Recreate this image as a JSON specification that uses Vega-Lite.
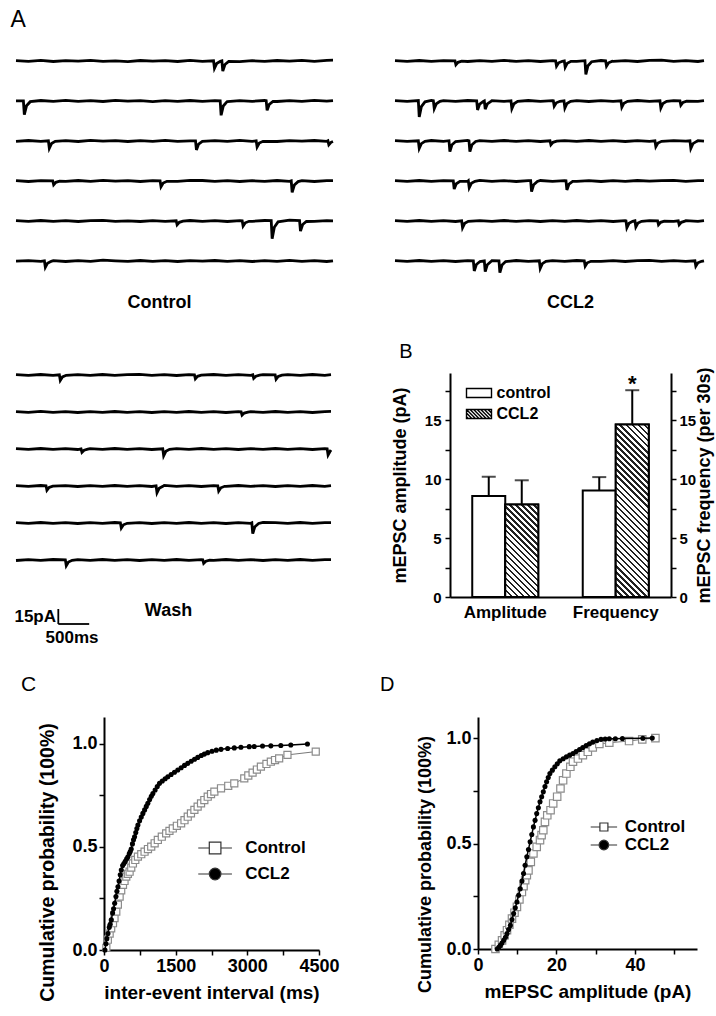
{
"$schema":"https://vega.github.io/schema/vega-lite/v6.json",
"background":"white",
"padding":{"left":10,"top":9,"right":5,"bottom":5},
"title":{"text":"A","anchor":"start","fontSize":23,"fontWeight":"normal","offset":14},
"spacing":28,
"align":"none",
"resolve":{"scale":{"shape":"independent","fill":"independent"},"legend":{"shape":"independent","fill":"independent"}},
"config":{
 "view":{"stroke":null},
 "font":"Liberation Sans",
 "axis":{"domainColor":"black","domainWidth":2,"tickColor":"black","tickWidth":1.5,"tickSize":5,"labelColor":"black","labelFontWeight":"bold","titleColor":"black","titleFontWeight":"bold","grid":false,"labelPadding":2,"labelFont":"Liberation Sans","titleFont":"Liberation Sans","labelFlush":false,"labelOverlap":false},
 "legend":{"labelFont":"Liberation Sans","labelFontWeight":"bold","labelColor":"black","padding":0},
 "title":{"font":"Liberation Sans","color":"black"}
},
"datasets":{
"ctl":[
{"k":1,"t":0,"i":0.4},{"k":1,"t":200,"i":-0.3},{"k":1,"t":400,"i":0.6},{"k":1,"t":600,"i":-0.5},{"k":1,"t":800,"i":0.3},{"k":1,"t":1000,"i":-0.2},{"k":1,"t":1200,"i":0.7},{"k":1,"t":1400,"i":-0.4},{"k":1,"t":1600,"i":0.2},{"k":1,"t":1800,"i":-0.6},{"k":1,"t":2000,"i":0.5},{"k":1,"t":2200,"i":-0.1},{"k":1,"t":2400,"i":0.4},{"k":1,"t":2600,"i":-0.5},{"k":1,"t":2800,"i":0.6},{"k":1,"t":3000,"i":-0.3},{"k":1,"t":3178,"i":0.2},{"k":1,"t":3193,"i":-7.3},{"k":1,"t":3228,"i":-2.6},{"k":1,"t":3288,"i":-0.4},{"k":1,"t":3312,"i":0.1},{"k":1,"t":3327,"i":-10.1},{"k":1,"t":3362,"i":-3.5},{"k":1,"t":3422,"i":-0.5},{"k":1,"t":3600,"i":-0.6},{"k":1,"t":3800,"i":0.3},{"k":1,"t":4000,"i":-0.4},{"k":1,"t":4200,"i":0.5},{"k":1,"t":4400,"i":-0.2},{"k":1,"t":4600,"i":0.6},{"k":1,"t":4800,"i":-0.3},{"k":1,"t":5000,"i":0.7},{"k":1,"t":5100,"i":0.8},
{"k":2,"t":0,"i":0.2},{"k":2,"t":119,"i":0.2},{"k":2,"t":134,"i":-13.7},{"k":2,"t":169,"i":-4.8},{"k":2,"t":229,"i":-0.7},{"k":2,"t":400,"i":0.5},{"k":2,"t":600,"i":-0.3},{"k":2,"t":800,"i":0.6},{"k":2,"t":1000,"i":-0.4},{"k":2,"t":1200,"i":0.3},{"k":2,"t":1400,"i":-0.5},{"k":2,"t":1600,"i":0.6},{"k":2,"t":1800,"i":-0.2},{"k":2,"t":2000,"i":0.4},{"k":2,"t":2200,"i":-0.6},{"k":2,"t":2400,"i":0.3},{"k":2,"t":2600,"i":-0.3},{"k":2,"t":2800,"i":0.5},{"k":2,"t":3000,"i":-0.4},{"k":2,"t":3200,"i":0.3},{"k":2,"t":3285,"i":0.2},{"k":2,"t":3300,"i":-14.3},{"k":2,"t":3335,"i":-5.0},{"k":2,"t":3395,"i":-0.7},{"k":2,"t":3400,"i":-0.6},{"k":2,"t":3600,"i":0.4},{"k":2,"t":3800,"i":-0.3},{"k":2,"t":4000,"i":0.5},{"k":2,"t":4025,"i":0.3},{"k":2,"t":4040,"i":-9.4},{"k":2,"t":4075,"i":-3.3},{"k":2,"t":4135,"i":-0.5},{"k":2,"t":4200,"i":-0.5},{"k":2,"t":4400,"i":0.3},{"k":2,"t":4600,"i":-0.4},{"k":2,"t":4800,"i":0.6},{"k":2,"t":5000,"i":-0.2},{"k":2,"t":5100,"i":0.3},
{"k":3,"t":0,"i":-0.3},{"k":3,"t":200,"i":0.5},{"k":3,"t":400,"i":-0.4},{"k":3,"t":521,"i":0.2},{"k":3,"t":536,"i":-7.3},{"k":3,"t":571,"i":-2.6},{"k":3,"t":631,"i":-0.4},{"k":3,"t":800,"i":0.4},{"k":3,"t":1000,"i":-0.5},{"k":3,"t":1200,"i":0.6},{"k":3,"t":1400,"i":-0.2},{"k":3,"t":1600,"i":0.4},{"k":3,"t":1800,"i":-0.5},{"k":3,"t":2000,"i":0.3},{"k":3,"t":2200,"i":-0.4},{"k":3,"t":2400,"i":0.6},{"k":3,"t":2600,"i":-0.3},{"k":3,"t":2800,"i":0.2},{"k":3,"t":2888,"i":0.2},{"k":3,"t":2903,"i":-8.9},{"k":3,"t":2938,"i":-3.1},{"k":3,"t":2998,"i":-0.4},{"k":3,"t":3200,"i":0.4},{"k":3,"t":3400,"i":-0.3},{"k":3,"t":3600,"i":0.6},{"k":3,"t":3800,"i":-0.4},{"k":3,"t":3864,"i":0.1},{"k":3,"t":3879,"i":-6.0},{"k":3,"t":3914,"i":-2.1},{"k":3,"t":3974,"i":-0.3},{"k":3,"t":4200,"i":-0.5},{"k":3,"t":4400,"i":0.4},{"k":3,"t":4600,"i":-0.2},{"k":3,"t":4800,"i":0.5},{"k":3,"t":5000,"i":-0.3},{"k":3,"t":5018,"i":0.2},{"k":3,"t":5033,"i":-3.8},{"k":3,"t":5068,"i":-1.3},{"k":3,"t":5100,"i":-0.5},
{"k":4,"t":0,"i":0.4},{"k":4,"t":200,"i":-0.5},{"k":4,"t":400,"i":0.3},{"k":4,"t":591,"i":0.2},{"k":4,"t":606,"i":-3.8},{"k":4,"t":641,"i":-1.3},{"k":4,"t":701,"i":-0.2},{"k":4,"t":800,"i":-0.3},{"k":4,"t":1000,"i":0.5},{"k":4,"t":1200,"i":-0.4},{"k":4,"t":1400,"i":0.6},{"k":4,"t":1600,"i":-0.2},{"k":4,"t":1800,"i":0.4},{"k":4,"t":2000,"i":-0.5},{"k":4,"t":2200,"i":0.3},{"k":4,"t":2318,"i":0.2},{"k":4,"t":2333,"i":-5.7},{"k":4,"t":2368,"i":-2.0},{"k":4,"t":2428,"i":-0.3},{"k":4,"t":2600,"i":-0.4},{"k":4,"t":2800,"i":0.7},{"k":4,"t":3000,"i":0.5},{"k":4,"t":3200,"i":-0.3},{"k":4,"t":3400,"i":0.4},{"k":4,"t":3600,"i":-0.5},{"k":4,"t":3800,"i":0.3},{"k":4,"t":4000,"i":-0.4},{"k":4,"t":4200,"i":0.5},{"k":4,"t":4400,"i":-0.3},{"k":4,"t":4428,"i":0.2},{"k":4,"t":4443,"i":-11.4},{"k":4,"t":4478,"i":-4.0},{"k":4,"t":4538,"i":-0.6},{"k":4,"t":4600,"i":0.4},{"k":4,"t":4800,"i":-0.5},{"k":4,"t":5000,"i":0.3},{"k":4,"t":5100,"i":0.4},
{"k":5,"t":0,"i":0.3},{"k":5,"t":200,"i":-0.4},{"k":5,"t":400,"i":0.5},{"k":5,"t":600,"i":-0.3},{"k":5,"t":800,"i":0.4},{"k":5,"t":1000,"i":-0.5},{"k":5,"t":1200,"i":0.3},{"k":5,"t":1400,"i":0.6},{"k":5,"t":1600,"i":-0.4},{"k":5,"t":1800,"i":0.2},{"k":5,"t":2000,"i":-0.5},{"k":5,"t":2200,"i":0.4},{"k":5,"t":2400,"i":-0.3},{"k":5,"t":2577,"i":0.2},{"k":5,"t":2592,"i":-3.8},{"k":5,"t":2627,"i":-1.3},{"k":5,"t":2687,"i":-0.2},{"k":5,"t":2800,"i":0.5},{"k":5,"t":3000,"i":-0.4},{"k":5,"t":3200,"i":0.3},{"k":5,"t":3400,"i":-0.5},{"k":5,"t":3600,"i":0.4},{"k":5,"t":3639,"i":0.2},{"k":5,"t":3654,"i":-5.1},{"k":5,"t":3689,"i":-1.8},{"k":5,"t":3749,"i":-0.3},{"k":5,"t":3800,"i":-0.3},{"k":5,"t":4000,"i":0.5},{"k":5,"t":4106,"i":0.3},{"k":5,"t":4121,"i":-17.7},{"k":5,"t":4156,"i":-6.2},{"k":5,"t":4216,"i":-0.9},{"k":5,"t":4400,"i":0.8},{"k":5,"t":4562,"i":0.3},{"k":5,"t":4577,"i":-10.1},{"k":5,"t":4612,"i":-3.5},{"k":5,"t":4672,"i":-0.5},{"k":5,"t":4800,"i":-0.4},{"k":5,"t":5000,"i":0.3},{"k":5,"t":5100,"i":0.2},
{"k":6,"t":0,"i":-0.2},{"k":6,"t":200,"i":0.4},{"k":6,"t":400,"i":-0.4},{"k":6,"t":457,"i":0.2},{"k":6,"t":472,"i":-6.3},{"k":6,"t":507,"i":-2.2},{"k":6,"t":567,"i":-0.3},{"k":6,"t":600,"i":0.3},{"k":6,"t":800,"i":-0.5},{"k":6,"t":1000,"i":0.4},{"k":6,"t":1200,"i":-0.3},{"k":6,"t":1400,"i":0.8},{"k":6,"t":1600,"i":0.2},{"k":6,"t":1800,"i":-0.4},{"k":6,"t":2000,"i":0.5},{"k":6,"t":2200,"i":-0.3},{"k":6,"t":2400,"i":0.4},{"k":6,"t":2600,"i":-0.5},{"k":6,"t":2800,"i":0.3},{"k":6,"t":3000,"i":-0.2},{"k":6,"t":3200,"i":0.5},{"k":6,"t":3400,"i":-0.4},{"k":6,"t":3600,"i":0.3},{"k":6,"t":3800,"i":-0.5},{"k":6,"t":4000,"i":0.4},{"k":6,"t":4200,"i":-0.3},{"k":6,"t":4400,"i":0.6},{"k":6,"t":4600,"i":-0.4},{"k":6,"t":4800,"i":0.3},{"k":6,"t":5000,"i":-0.5},{"k":6,"t":5100,"i":0.2}
],
"ccl":[
{"k":1,"t":0,"i":0.3},{"k":1,"t":200,"i":-0.4},{"k":1,"t":400,"i":0.5},{"k":1,"t":600,"i":-0.3},{"k":1,"t":800,"i":0.4},{"k":1,"t":990,"i":0.2},{"k":1,"t":1005,"i":-3.8},{"k":1,"t":1040,"i":-1.3},{"k":1,"t":1100,"i":-0.2},{"k":1,"t":1200,"i":-0.5},{"k":1,"t":1400,"i":0.4},{"k":1,"t":1600,"i":-0.3},{"k":1,"t":1800,"i":0.6},{"k":1,"t":2000,"i":-0.4},{"k":1,"t":2200,"i":0.3},{"k":1,"t":2400,"i":-0.5},{"k":1,"t":2600,"i":0.4},{"k":1,"t":2651,"i":0.2},{"k":1,"t":2666,"i":-5.1},{"k":1,"t":2701,"i":-1.8},{"k":1,"t":2761,"i":-0.3},{"k":1,"t":2794,"i":0.1},{"k":1,"t":2809,"i":-6.3},{"k":1,"t":2844,"i":-2.2},{"k":1,"t":2904,"i":-0.3},{"k":1,"t":3000,"i":-0.3},{"k":1,"t":3135,"i":0.3},{"k":1,"t":3150,"i":-13.3},{"k":1,"t":3185,"i":-4.7},{"k":1,"t":3245,"i":-0.7},{"k":1,"t":3400,"i":0.5},{"k":1,"t":3476,"i":0.2},{"k":1,"t":3491,"i":-5.1},{"k":1,"t":3526,"i":-1.8},{"k":1,"t":3586,"i":-0.3},{"k":1,"t":3600,"i":-0.4},{"k":1,"t":3800,"i":0.3},{"k":1,"t":4000,"i":-0.5},{"k":1,"t":4200,"i":0.6},{"k":1,"t":4400,"i":0.9},{"k":1,"t":4600,"i":-0.3},{"k":1,"t":4800,"i":0.4},{"k":1,"t":5000,"i":-0.5},{"k":1,"t":5100,"i":0.3},
{"k":2,"t":0,"i":0.3},{"k":2,"t":200,"i":-0.4},{"k":2,"t":385,"i":0.4},{"k":2,"t":400,"i":-16.0},{"k":2,"t":435,"i":-5.6},{"k":2,"t":495,"i":-0.8},{"k":2,"t":600,"i":0.5},{"k":2,"t":633,"i":0.3},{"k":2,"t":648,"i":-7.6},{"k":2,"t":683,"i":-2.7},{"k":2,"t":743,"i":-0.4},{"k":2,"t":800,"i":0.4},{"k":2,"t":1000,"i":-0.3},{"k":2,"t":1200,"i":0.5},{"k":2,"t":1348,"i":0.2},{"k":2,"t":1363,"i":-8.9},{"k":2,"t":1398,"i":-3.1},{"k":2,"t":1458,"i":-0.4},{"k":2,"t":1474,"i":0.1},{"k":2,"t":1489,"i":-8.2},{"k":2,"t":1524,"i":-2.9},{"k":2,"t":1584,"i":-0.4},{"k":2,"t":1600,"i":0.4},{"k":2,"t":1800,"i":-0.4},{"k":2,"t":1914,"i":0.2},{"k":2,"t":1929,"i":-7.6},{"k":2,"t":1964,"i":-2.7},{"k":2,"t":2024,"i":-0.4},{"k":2,"t":2200,"i":0.5},{"k":2,"t":2400,"i":-0.3},{"k":2,"t":2600,"i":0.3},{"k":2,"t":2613,"i":0.2},{"k":2,"t":2628,"i":-5.1},{"k":2,"t":2663,"i":-1.8},{"k":2,"t":2723,"i":-0.3},{"k":2,"t":2789,"i":0.2},{"k":2,"t":2804,"i":-7.0},{"k":2,"t":2839,"i":-2.5},{"k":2,"t":2899,"i":-0.4},{"k":2,"t":3000,"i":0.4},{"k":2,"t":3200,"i":-0.5},{"k":2,"t":3400,"i":0.3},{"k":2,"t":3600,"i":-0.4},{"k":2,"t":3729,"i":0.2},{"k":2,"t":3744,"i":-6.3},{"k":2,"t":3779,"i":-2.2},{"k":2,"t":3839,"i":-0.3},{"k":2,"t":4000,"i":0.5},{"k":2,"t":4200,"i":-0.3},{"k":2,"t":4373,"i":0.2},{"k":2,"t":4388,"i":-7.0},{"k":2,"t":4423,"i":-2.5},{"k":2,"t":4483,"i":-0.4},{"k":2,"t":4600,"i":0.4},{"k":2,"t":4703,"i":0.2},{"k":2,"t":4718,"i":-4.3},{"k":2,"t":4753,"i":-1.5},{"k":2,"t":4813,"i":-0.2},{"k":2,"t":5000,"i":-0.3},{"k":2,"t":5100,"i":0.4},
{"k":3,"t":0,"i":0.4},{"k":3,"t":200,"i":-0.3},{"k":3,"t":385,"i":0.2},{"k":3,"t":400,"i":-7.3},{"k":3,"t":435,"i":-2.6},{"k":3,"t":495,"i":-0.4},{"k":3,"t":600,"i":0.5},{"k":3,"t":800,"i":-0.4},{"k":3,"t":891,"i":0.3},{"k":3,"t":906,"i":-10.6},{"k":3,"t":941,"i":-3.7},{"k":3,"t":1001,"i":-0.5},{"k":3,"t":1200,"i":0.6},{"k":3,"t":1221,"i":0.2},{"k":3,"t":1236,"i":-10.6},{"k":3,"t":1271,"i":-3.7},{"k":3,"t":1331,"i":-0.5},{"k":3,"t":1400,"i":0.4},{"k":3,"t":1600,"i":-0.3},{"k":3,"t":1800,"i":0.5},{"k":3,"t":2000,"i":-0.4},{"k":3,"t":2200,"i":0.3},{"k":3,"t":2400,"i":-0.5},{"k":3,"t":2558,"i":0.2},{"k":3,"t":2573,"i":-3.8},{"k":3,"t":2608,"i":-1.3},{"k":3,"t":2668,"i":-0.2},{"k":3,"t":2800,"i":0.4},{"k":3,"t":3000,"i":-0.3},{"k":3,"t":3200,"i":0.5},{"k":3,"t":3400,"i":-0.4},{"k":3,"t":3600,"i":0.3},{"k":3,"t":3800,"i":-0.5},{"k":3,"t":4000,"i":0.4},{"k":3,"t":4200,"i":-0.3},{"k":3,"t":4290,"i":0.2},{"k":3,"t":4305,"i":-5.7},{"k":3,"t":4340,"i":-2.0},{"k":3,"t":4400,"i":-0.3},{"k":3,"t":4600,"i":0.4},{"k":3,"t":4800,"i":-0.2},{"k":3,"t":4868,"i":0.2},{"k":3,"t":4883,"i":-7.3},{"k":3,"t":4918,"i":-2.6},{"k":3,"t":4978,"i":-0.4},{"k":3,"t":5000,"i":0.3},{"k":3,"t":5100,"i":-0.2},
{"k":4,"t":0,"i":0.3},{"k":4,"t":200,"i":-0.4},{"k":4,"t":400,"i":0.5},{"k":4,"t":600,"i":-0.3},{"k":4,"t":800,"i":0.4},{"k":4,"t":962,"i":0.2},{"k":4,"t":977,"i":-8.0},{"k":4,"t":1012,"i":-2.8},{"k":4,"t":1072,"i":-0.4},{"k":4,"t":1200,"i":-0.3},{"k":4,"t":1210,"i":0.2},{"k":4,"t":1225,"i":-6.7},{"k":4,"t":1260,"i":-2.3},{"k":4,"t":1320,"i":-0.3},{"k":4,"t":1400,"i":0.6},{"k":4,"t":1600,"i":-0.4},{"k":4,"t":1800,"i":0.3},{"k":4,"t":2000,"i":-0.5},{"k":4,"t":2200,"i":0.4},{"k":4,"t":2239,"i":0.3},{"k":4,"t":2254,"i":-10.6},{"k":4,"t":2289,"i":-3.7},{"k":4,"t":2349,"i":-0.5},{"k":4,"t":2400,"i":0.5},{"k":4,"t":2600,"i":-0.4},{"k":4,"t":2800,"i":0.3},{"k":4,"t":2822,"i":0.2},{"k":4,"t":2837,"i":-8.9},{"k":4,"t":2872,"i":-3.1},{"k":4,"t":2932,"i":-0.4},{"k":4,"t":3000,"i":-0.3},{"k":4,"t":3200,"i":0.4},{"k":4,"t":3400,"i":-0.5},{"k":4,"t":3600,"i":0.3},{"k":4,"t":3800,"i":-0.4},{"k":4,"t":4000,"i":0.5},{"k":4,"t":4200,"i":-0.2},{"k":4,"t":4400,"i":0.4},{"k":4,"t":4600,"i":0.7},{"k":4,"t":4800,"i":-0.3},{"k":4,"t":5000,"i":0.4},{"k":4,"t":5100,"i":0.3},
{"k":5,"t":0,"i":0.4},{"k":5,"t":200,"i":-0.3},{"k":5,"t":400,"i":0.5},{"k":5,"t":600,"i":-0.4},{"k":5,"t":800,"i":0.3},{"k":5,"t":1000,"i":-0.5},{"k":5,"t":1100,"i":0.2},{"k":5,"t":1115,"i":-6.7},{"k":5,"t":1150,"i":-2.3},{"k":5,"t":1210,"i":-0.3},{"k":5,"t":1400,"i":0.4},{"k":5,"t":1600,"i":-0.3},{"k":5,"t":1800,"i":0.5},{"k":5,"t":2000,"i":-0.4},{"k":5,"t":2200,"i":0.3},{"k":5,"t":2400,"i":-0.5},{"k":5,"t":2600,"i":0.4},{"k":5,"t":2800,"i":-0.3},{"k":5,"t":3000,"i":0.5},{"k":5,"t":3200,"i":-0.4},{"k":5,"t":3400,"i":0.3},{"k":5,"t":3600,"i":-0.5},{"k":5,"t":3800,"i":0.4},{"k":5,"t":3812,"i":0.2},{"k":5,"t":3827,"i":-6.7},{"k":5,"t":3862,"i":-2.3},{"k":5,"t":3922,"i":-0.3},{"k":5,"t":3960,"i":0.2},{"k":5,"t":3975,"i":-6.0},{"k":5,"t":4010,"i":-2.1},{"k":5,"t":4070,"i":-0.3},{"k":5,"t":4200,"i":0.3},{"k":5,"t":4334,"i":0.2},{"k":5,"t":4349,"i":-3.8},{"k":5,"t":4384,"i":-1.3},{"k":5,"t":4444,"i":-0.2},{"k":5,"t":4600,"i":-0.4},{"k":5,"t":4675,"i":0.2},{"k":5,"t":4690,"i":-3.8},{"k":5,"t":4725,"i":-1.3},{"k":5,"t":4785,"i":-0.2},{"k":5,"t":4800,"i":0.3},{"k":5,"t":5000,"i":-0.4},{"k":5,"t":5100,"i":0.3},
{"k":6,"t":0,"i":0.3},{"k":6,"t":200,"i":-0.4},{"k":6,"t":400,"i":0.5},{"k":6,"t":600,"i":-0.3},{"k":6,"t":800,"i":0.4},{"k":6,"t":1000,"i":-0.5},{"k":6,"t":1200,"i":0.3},{"k":6,"t":1293,"i":0.2},{"k":6,"t":1308,"i":-10.0},{"k":6,"t":1343,"i":-3.5},{"k":6,"t":1403,"i":-0.5},{"k":6,"t":1474,"i":0.2},{"k":6,"t":1489,"i":-10.6},{"k":6,"t":1524,"i":-3.7},{"k":6,"t":1584,"i":-0.5},{"k":6,"t":1600,"i":0.4},{"k":6,"t":1716,"i":0.2},{"k":6,"t":1731,"i":-11.7},{"k":6,"t":1766,"i":-4.1},{"k":6,"t":1826,"i":-0.6},{"k":6,"t":2000,"i":0.5},{"k":6,"t":2200,"i":-0.4},{"k":6,"t":2382,"i":0.2},{"k":6,"t":2397,"i":-7.3},{"k":6,"t":2432,"i":-2.6},{"k":6,"t":2492,"i":-0.4},{"k":6,"t":2600,"i":0.3},{"k":6,"t":2800,"i":-0.4},{"k":6,"t":3000,"i":0.5},{"k":6,"t":3124,"i":0.2},{"k":6,"t":3139,"i":-5.1},{"k":6,"t":3174,"i":-1.8},{"k":6,"t":3234,"i":-0.3},{"k":6,"t":3400,"i":-0.3},{"k":6,"t":3600,"i":0.4},{"k":6,"t":3800,"i":-0.5},{"k":6,"t":4000,"i":0.3},{"k":6,"t":4200,"i":0.6},{"k":6,"t":4400,"i":-0.3},{"k":6,"t":4600,"i":0.4},{"k":6,"t":4800,"i":-0.3},{"k":6,"t":4950,"i":0.2},{"k":6,"t":4965,"i":-5.1},{"k":6,"t":5000,"i":-1.8},{"k":6,"t":5060,"i":-0.3},{"k":6,"t":5100,"i":0.2}
],
"wash":[
{"k":1,"t":0,"i":0.3},{"k":1,"t":200,"i":-0.4},{"k":1,"t":400,"i":0.5},{"k":1,"t":600,"i":-0.3},{"k":1,"t":702,"i":0.2},{"k":1,"t":717,"i":-5.3},{"k":1,"t":752,"i":-1.9},{"k":1,"t":812,"i":-0.3},{"k":1,"t":1000,"i":0.4},{"k":1,"t":1200,"i":-0.3},{"k":1,"t":1400,"i":0.5},{"k":1,"t":1600,"i":-0.4},{"k":1,"t":1800,"i":0.3},{"k":1,"t":2000,"i":0.7},{"k":1,"t":2200,"i":-0.3},{"k":1,"t":2400,"i":0.4},{"k":1,"t":2600,"i":-0.5},{"k":1,"t":2800,"i":0.3},{"k":1,"t":2889,"i":0.2},{"k":1,"t":2904,"i":-3.8},{"k":1,"t":2939,"i":-1.3},{"k":1,"t":2999,"i":-0.2},{"k":1,"t":3200,"i":0.5},{"k":1,"t":3400,"i":-0.3},{"k":1,"t":3600,"i":0.4},{"k":1,"t":3800,"i":-0.3},{"k":1,"t":3834,"i":0.2},{"k":1,"t":3849,"i":-3.3},{"k":1,"t":3884,"i":-1.2},{"k":1,"t":3944,"i":-0.2},{"k":1,"t":4000,"i":0.3},{"k":1,"t":4196,"i":0.2},{"k":1,"t":4211,"i":-4.3},{"k":1,"t":4246,"i":-1.5},{"k":1,"t":4306,"i":-0.2},{"k":1,"t":4400,"i":0.4},{"k":1,"t":4600,"i":-0.3},{"k":1,"t":4800,"i":0.5},{"k":1,"t":5000,"i":-0.3},{"k":1,"t":5100,"i":0.3},
{"k":2,"t":0,"i":0.3},{"k":2,"t":200,"i":-0.4},{"k":2,"t":400,"i":0.6},{"k":2,"t":600,"i":-0.3},{"k":2,"t":800,"i":0.4},{"k":2,"t":1000,"i":-0.5},{"k":2,"t":1200,"i":0.3},{"k":2,"t":1400,"i":-0.4},{"k":2,"t":1600,"i":0.5},{"k":2,"t":1800,"i":-0.3},{"k":2,"t":2000,"i":0.4},{"k":2,"t":2200,"i":-0.5},{"k":2,"t":2400,"i":0.3},{"k":2,"t":2600,"i":-0.4},{"k":2,"t":2800,"i":0.5},{"k":2,"t":3000,"i":-0.3},{"k":2,"t":3200,"i":0.4},{"k":2,"t":3400,"i":-0.5},{"k":2,"t":3600,"i":0.3},{"k":2,"t":3645,"i":0.2},{"k":2,"t":3660,"i":-3.2},{"k":2,"t":3695,"i":-1.1},{"k":2,"t":3755,"i":-0.2},{"k":2,"t":3800,"i":0.4},{"k":2,"t":4000,"i":-0.3},{"k":2,"t":4200,"i":0.5},{"k":2,"t":4400,"i":-0.4},{"k":2,"t":4600,"i":0.3},{"k":2,"t":4800,"i":-0.5},{"k":2,"t":5000,"i":0.4},{"k":2,"t":5100,"i":0.6},
{"k":3,"t":0,"i":0.4},{"k":3,"t":200,"i":-0.3},{"k":3,"t":400,"i":0.5},{"k":3,"t":600,"i":-0.4},{"k":3,"t":800,"i":0.3},{"k":3,"t":1000,"i":-0.5},{"k":3,"t":1053,"i":0.2},{"k":3,"t":1068,"i":-3.3},{"k":3,"t":1103,"i":-1.2},{"k":3,"t":1163,"i":-0.2},{"k":3,"t":1200,"i":0.4},{"k":3,"t":1400,"i":-0.3},{"k":3,"t":1600,"i":0.5},{"k":3,"t":1800,"i":-0.4},{"k":3,"t":2000,"i":0.3},{"k":3,"t":2200,"i":-0.5},{"k":3,"t":2376,"i":0.2},{"k":3,"t":2391,"i":-6.7},{"k":3,"t":2426,"i":-2.3},{"k":3,"t":2486,"i":-0.3},{"k":3,"t":2600,"i":0.4},{"k":3,"t":2800,"i":-0.3},{"k":3,"t":3000,"i":0.5},{"k":3,"t":3200,"i":-0.4},{"k":3,"t":3400,"i":0.3},{"k":3,"t":3600,"i":-0.5},{"k":3,"t":3800,"i":0.4},{"k":3,"t":4000,"i":-0.3},{"k":3,"t":4200,"i":0.5},{"k":3,"t":4400,"i":-0.4},{"k":3,"t":4600,"i":0.3},{"k":3,"t":4800,"i":-0.5},{"k":3,"t":5000,"i":0.3},{"k":3,"t":5038,"i":0.2},{"k":3,"t":5053,"i":-6.0},{"k":3,"t":5088,"i":-2.1},{"k":3,"t":5100,"i":-1.0},
{"k":4,"t":0,"i":0.3},{"k":4,"t":200,"i":-0.4},{"k":4,"t":400,"i":0.5},{"k":4,"t":486,"i":0.2},{"k":4,"t":501,"i":-4.3},{"k":4,"t":536,"i":-1.5},{"k":4,"t":596,"i":-0.2},{"k":4,"t":800,"i":0.4},{"k":4,"t":1000,"i":-0.5},{"k":4,"t":1200,"i":0.3},{"k":4,"t":1400,"i":-0.4},{"k":4,"t":1600,"i":0.5},{"k":4,"t":1800,"i":-0.3},{"k":4,"t":2000,"i":0.4},{"k":4,"t":2200,"i":-0.5},{"k":4,"t":2268,"i":0.2},{"k":4,"t":2283,"i":-6.7},{"k":4,"t":2318,"i":-2.3},{"k":4,"t":2378,"i":-0.3},{"k":4,"t":2400,"i":0.6},{"k":4,"t":2600,"i":-0.3},{"k":4,"t":2800,"i":0.4},{"k":4,"t":3000,"i":-0.5},{"k":4,"t":3200,"i":0.3},{"k":4,"t":3267,"i":0.2},{"k":4,"t":3282,"i":-5.1},{"k":4,"t":3317,"i":-1.8},{"k":4,"t":3377,"i":-0.3},{"k":4,"t":3400,"i":-0.4},{"k":4,"t":3600,"i":0.5},{"k":4,"t":3800,"i":-0.3},{"k":4,"t":4000,"i":0.4},{"k":4,"t":4200,"i":-0.5},{"k":4,"t":4400,"i":0.3},{"k":4,"t":4600,"i":-0.4},{"k":4,"t":4800,"i":0.5},{"k":4,"t":5000,"i":-0.3},{"k":4,"t":5100,"i":0.3},
{"k":5,"t":0,"i":0.4},{"k":5,"t":200,"i":-0.3},{"k":5,"t":400,"i":0.5},{"k":5,"t":600,"i":-0.4},{"k":5,"t":800,"i":0.3},{"k":5,"t":1000,"i":-0.5},{"k":5,"t":1200,"i":0.4},{"k":5,"t":1400,"i":-0.3},{"k":5,"t":1600,"i":0.5},{"k":5,"t":1690,"i":0.2},{"k":5,"t":1705,"i":-5.1},{"k":5,"t":1740,"i":-1.8},{"k":5,"t":1800,"i":-0.3},{"k":5,"t":2000,"i":0.3},{"k":5,"t":2200,"i":-0.5},{"k":5,"t":2400,"i":0.4},{"k":5,"t":2600,"i":-0.3},{"k":5,"t":2800,"i":0.5},{"k":5,"t":3000,"i":-0.4},{"k":5,"t":3200,"i":0.3},{"k":5,"t":3400,"i":-0.5},{"k":5,"t":3600,"i":0.4},{"k":5,"t":3800,"i":-0.3},{"k":5,"t":3818,"i":0.2},{"k":5,"t":3833,"i":-10.6},{"k":5,"t":3868,"i":-3.7},{"k":5,"t":3928,"i":-0.5},{"k":5,"t":4000,"i":0.6},{"k":5,"t":4200,"i":0.3},{"k":5,"t":4400,"i":-0.4},{"k":5,"t":4600,"i":0.5},{"k":5,"t":4800,"i":-0.3},{"k":5,"t":5000,"i":0.4},{"k":5,"t":5100,"i":0.3},
{"k":6,"t":0,"i":-0.5},{"k":6,"t":200,"i":0.4},{"k":6,"t":400,"i":-0.3},{"k":6,"t":600,"i":0.5},{"k":6,"t":799,"i":0.2},{"k":6,"t":814,"i":-5.7},{"k":6,"t":849,"i":-2.0},{"k":6,"t":909,"i":-0.3},{"k":6,"t":1000,"i":0.4},{"k":6,"t":1200,"i":-0.3},{"k":6,"t":1400,"i":0.5},{"k":6,"t":1600,"i":-0.4},{"k":6,"t":1800,"i":0.3},{"k":6,"t":2000,"i":-0.5},{"k":6,"t":2200,"i":0.4},{"k":6,"t":2400,"i":-0.3},{"k":6,"t":2600,"i":0.5},{"k":6,"t":2800,"i":-0.4},{"k":6,"t":3000,"i":0.3},{"k":6,"t":3024,"i":0.2},{"k":6,"t":3039,"i":-3.3},{"k":6,"t":3074,"i":-1.2},{"k":6,"t":3134,"i":-0.2},{"k":6,"t":3200,"i":-0.4},{"k":6,"t":3400,"i":0.5},{"k":6,"t":3600,"i":-0.3},{"k":6,"t":3800,"i":0.4},{"k":6,"t":4000,"i":-0.5},{"k":6,"t":4200,"i":0.3},{"k":6,"t":4400,"i":-0.4},{"k":6,"t":4600,"i":0.5},{"k":6,"t":4800,"i":-0.3},{"k":6,"t":5000,"i":0.4},{"k":6,"t":5100,"i":0.3},
{"k":6,"sb":"v","t":685,"i":-49,"i2":-64},
{"k":6,"sb":"h","t":685,"t2":1185,"i":-64},
{"k":6,"sb":"a","t":648,"i":-57,"lab":"15pA"},
{"k":6,"sb":"b","t":907,"i":-78,"lab":"500ms"}
],
"cc":[
{"s":"Control","x":49,"p":0.01},{"s":"Control","x":80,"p":0.05},{"s":"Control","x":118,"p":0.08},{"s":"Control","x":150,"p":0.105},{"s":"Control","x":188,"p":0.13},{"s":"Control","x":220,"p":0.155},{"s":"Control","x":257,"p":0.186},{"s":"Control","x":290,"p":0.22},{"s":"Control","x":327,"p":0.259},{"s":"Control","x":360,"p":0.29},{"s":"Control","x":397,"p":0.316},{"s":"Control","x":430,"p":0.335},{"s":"Control","x":466,"p":0.356},{"s":"Control","x":500,"p":0.37},{"s":"Control","x":536,"p":0.38},{"s":"Control","x":570,"p":0.4},{"s":"Control","x":605,"p":0.42},{"s":"Control","x":655,"p":0.437},{"s":"Control","x":710,"p":0.453},{"s":"Control","x":780,"p":0.465},{"s":"Control","x":849,"p":0.477},{"s":"Control","x":920,"p":0.49},{"s":"Control","x":988,"p":0.502},{"s":"Control","x":1060,"p":0.518},{"s":"Control","x":1127,"p":0.534},{"s":"Control","x":1210,"p":0.55},{"s":"Control","x":1301,"p":0.566},{"s":"Control","x":1370,"p":0.578},{"s":"Control","x":1440,"p":0.59},{"s":"Control","x":1525,"p":0.603},{"s":"Control","x":1614,"p":0.615},{"s":"Control","x":1685,"p":0.63},{"s":"Control","x":1753,"p":0.647},{"s":"Control","x":1820,"p":0.663},{"s":"Control","x":1892,"p":0.68},{"s":"Control","x":1960,"p":0.696},{"s":"Control","x":2031,"p":0.712},{"s":"Control","x":2100,"p":0.728},{"s":"Control","x":2171,"p":0.744},{"s":"Control","x":2240,"p":0.757},{"s":"Control","x":2310,"p":0.769},{"s":"Control","x":2449,"p":0.785},{"s":"Control","x":2600,"p":0.797},{"s":"Control","x":2727,"p":0.809},{"s":"Control","x":2936,"p":0.833},{"s":"Control","x":3020,"p":0.847},{"s":"Control","x":3110,"p":0.861},{"s":"Control","x":3200,"p":0.876},{"s":"Control","x":3284,"p":0.89},{"s":"Control","x":3400,"p":0.903},{"s":"Control","x":3492,"p":0.914},{"s":"Control","x":3580,"p":0.922},{"s":"Control","x":3666,"p":0.93},{"s":"Control","x":3840,"p":0.947},{"s":"Control","x":4432,"p":0.963},
{"s":"CCL2","x":20,"p":0},{"s":"CCL2","x":40,"p":0.03},{"s":"CCL2","x":60,"p":0.055},{"s":"CCL2","x":83,"p":0.08},{"s":"CCL2","x":110,"p":0.11},{"s":"CCL2","x":130,"p":0.125},{"s":"CCL2","x":153,"p":0.146},{"s":"CCL2","x":180,"p":0.18},{"s":"CCL2","x":200,"p":0.2},{"s":"CCL2","x":223,"p":0.227},{"s":"CCL2","x":250,"p":0.26},{"s":"CCL2","x":270,"p":0.285},{"s":"CCL2","x":292,"p":0.307},{"s":"CCL2","x":315,"p":0.335},{"s":"CCL2","x":340,"p":0.365},{"s":"CCL2","x":362,"p":0.388},{"s":"CCL2","x":390,"p":0.41},{"s":"CCL2","x":417,"p":0.42},{"s":"CCL2","x":445,"p":0.43},{"s":"CCL2","x":475,"p":0.443},{"s":"CCL2","x":501,"p":0.453},{"s":"CCL2","x":530,"p":0.468},{"s":"CCL2","x":550,"p":0.478},{"s":"CCL2","x":570,"p":0.49},{"s":"CCL2","x":595,"p":0.515},{"s":"CCL2","x":618,"p":0.535},{"s":"CCL2","x":640,"p":0.55},{"s":"CCL2","x":665,"p":0.57},{"s":"CCL2","x":688,"p":0.59},{"s":"CCL2","x":710,"p":0.607},{"s":"CCL2","x":745,"p":0.627},{"s":"CCL2","x":780,"p":0.645},{"s":"CCL2","x":814,"p":0.663},{"s":"CCL2","x":850,"p":0.68},{"s":"CCL2","x":885,"p":0.697},{"s":"CCL2","x":918,"p":0.712},{"s":"CCL2","x":955,"p":0.73},{"s":"CCL2","x":990,"p":0.746},{"s":"CCL2","x":1023,"p":0.76},{"s":"CCL2","x":1070,"p":0.777},{"s":"CCL2","x":1115,"p":0.794},{"s":"CCL2","x":1162,"p":0.809},{"s":"CCL2","x":1220,"p":0.82},{"s":"CCL2","x":1280,"p":0.831},{"s":"CCL2","x":1336,"p":0.841},{"s":"CCL2","x":1405,"p":0.852},{"s":"CCL2","x":1475,"p":0.863},{"s":"CCL2","x":1544,"p":0.874},{"s":"CCL2","x":1615,"p":0.885},{"s":"CCL2","x":1685,"p":0.896},{"s":"CCL2","x":1753,"p":0.906},{"s":"CCL2","x":1825,"p":0.916},{"s":"CCL2","x":1895,"p":0.926},{"s":"CCL2","x":1962,"p":0.935},{"s":"CCL2","x":2035,"p":0.944},{"s":"CCL2","x":2100,"p":0.951},{"s":"CCL2","x":2171,"p":0.958},{"s":"CCL2","x":2260,"p":0.965},{"s":"CCL2","x":2350,"p":0.97},{"s":"CCL2","x":2449,"p":0.974},{"s":"CCL2","x":2588,"p":0.978},{"s":"CCL2","x":2727,"p":0.981},{"s":"CCL2","x":2866,"p":0.984},{"s":"CCL2","x":3040,"p":0.987},{"s":"CCL2","x":3144,"p":0.988},{"s":"CCL2","x":3318,"p":0.99},{"s":"CCL2","x":3492,"p":0.991},{"s":"CCL2","x":3701,"p":0.993},{"s":"CCL2","x":3910,"p":0.995},{"s":"CCL2","x":4258,"p":1.0}
],
"dd":[
{"s":"Control","x":4.45,"p":0},{"s":"Control","x":5.3,"p":0.02},{"s":"Control","x":6.13,"p":0.041},{"s":"Control","x":6.8,"p":0.065},{"s":"Control","x":7.39,"p":0.089},{"s":"Control","x":8.0,"p":0.115},{"s":"Control","x":8.66,"p":0.144},{"s":"Control","x":9.3,"p":0.172},{"s":"Control","x":9.92,"p":0.2},{"s":"Control","x":10.55,"p":0.235},{"s":"Control","x":11.18,"p":0.27},{"s":"Control","x":11.6,"p":0.298},{"s":"Control","x":12.02,"p":0.326},{"s":"Control","x":12.44,"p":0.35},{"s":"Control","x":12.86,"p":0.373},{"s":"Control","x":13.45,"p":0.413},{"s":"Control","x":14.12,"p":0.453},{"s":"Control","x":14.96,"p":0.484},{"s":"Control","x":15.8,"p":0.516},{"s":"Control","x":16.2,"p":0.54},{"s":"Control","x":16.64,"p":0.563},{"s":"Control","x":17.06,"p":0.603},{"s":"Control","x":17.65,"p":0.634},{"s":"Control","x":18.49,"p":0.658},{"s":"Control","x":19.16,"p":0.69},{"s":"Control","x":20.17,"p":0.722},{"s":"Control","x":21.01,"p":0.761},{"s":"Control","x":21.68,"p":0.8},{"s":"Control","x":22.52,"p":0.832},{"s":"Control","x":23.53,"p":0.864},{"s":"Control","x":24.2,"p":0.888},{"s":"Control","x":25.46,"p":0.903},{"s":"Control","x":26.72,"p":0.919},{"s":"Control","x":27.98,"p":0.935},{"s":"Control","x":29.24,"p":0.956},{"s":"Control","x":30.92,"p":0.972},{"s":"Control","x":33.45,"p":0.978},{"s":"Control","x":38.49,"p":0.986},{"s":"Control","x":41.85,"p":0.994},{"s":"Control","x":45.2,"p":1.0},
{"s":"CCL2","x":4.9,"p":0},{"s":"CCL2","x":5.3,"p":0.008},{"s":"CCL2","x":5.7,"p":0.017},{"s":"CCL2","x":6.1,"p":0.028},{"s":"CCL2","x":6.55,"p":0.041},{"s":"CCL2","x":7.0,"p":0.056},{"s":"CCL2","x":7.4,"p":0.073},{"s":"CCL2","x":7.8,"p":0.092},{"s":"CCL2","x":8.24,"p":0.112},{"s":"CCL2","x":8.65,"p":0.14},{"s":"CCL2","x":9.08,"p":0.168},{"s":"CCL2","x":9.5,"p":0.195},{"s":"CCL2","x":9.92,"p":0.223},{"s":"CCL2","x":10.35,"p":0.255},{"s":"CCL2","x":10.76,"p":0.286},{"s":"CCL2","x":11.2,"p":0.322},{"s":"CCL2","x":11.6,"p":0.358},{"s":"CCL2","x":12.0,"p":0.397},{"s":"CCL2","x":12.44,"p":0.437},{"s":"CCL2","x":12.86,"p":0.472},{"s":"CCL2","x":13.28,"p":0.508},{"s":"CCL2","x":13.7,"p":0.543},{"s":"CCL2","x":14.12,"p":0.579},{"s":"CCL2","x":14.54,"p":0.61},{"s":"CCL2","x":14.96,"p":0.642},{"s":"CCL2","x":15.38,"p":0.67},{"s":"CCL2","x":15.8,"p":0.698},{"s":"CCL2","x":16.22,"p":0.722},{"s":"CCL2","x":16.64,"p":0.745},{"s":"CCL2","x":17.06,"p":0.77},{"s":"CCL2","x":17.48,"p":0.793},{"s":"CCL2","x":17.9,"p":0.813},{"s":"CCL2","x":18.32,"p":0.832},{"s":"CCL2","x":18.95,"p":0.848},{"s":"CCL2","x":19.58,"p":0.864},{"s":"CCL2","x":20.2,"p":0.878},{"s":"CCL2","x":20.84,"p":0.892},{"s":"CCL2","x":21.7,"p":0.902},{"s":"CCL2","x":22.52,"p":0.911},{"s":"CCL2","x":23.35,"p":0.919},{"s":"CCL2","x":24.2,"p":0.927},{"s":"CCL2","x":25.0,"p":0.936},{"s":"CCL2","x":25.88,"p":0.946},{"s":"CCL2","x":26.7,"p":0.955},{"s":"CCL2","x":27.56,"p":0.965},{"s":"CCL2","x":28.4,"p":0.973},{"s":"CCL2","x":29.24,"p":0.981},{"s":"CCL2","x":30.3,"p":0.988},{"s":"CCL2","x":31.34,"p":0.994},{"s":"CCL2","x":32.4,"p":0.996},{"s":"CCL2","x":33.45,"p":0.997},{"s":"CCL2","x":35.0,"p":0.997},{"s":"CCL2","x":36.8,"p":0.998},{"s":"CCL2","x":42.0,"p":0.999},{"s":"CCL2","x":44.4,"p":1.0}
]
},
"vconcat":[
{"hconcat":[
 {"data":{"name":"ctl"},
  "facet":{"row":{"field":"k","type":"ordinal","header":null}},
  "spacing":{"row":0},"bounds":"flush",
  "title":{"text":"Control","orient":"bottom","anchor":"middle","dx":-15,"offset":8,"fontSize":18,"fontWeight":"bold"},
  "spec":{"width":317,"height":39.5,
   "mark":{"type":"line","color":"black","strokeWidth":2.8},
   "encoding":{
    "x":{"field":"t","type":"quantitative","scale":{"domain":[0,5100],"nice":false,"zero":false},"axis":null},
    "y":{"field":"i","type":"quantitative","scale":{"domain":[-24.5,15],"nice":false,"zero":false},"axis":null}}}},
 {"data":{"name":"ccl"},
  "facet":{"row":{"field":"k","type":"ordinal","header":null}},
  "spacing":{"row":0},"bounds":"flush",
  "title":{"text":"CCL2","orient":"bottom","anchor":"middle","dx":21,"offset":9,"fontSize":18,"fontWeight":"bold"},
  "spec":{"width":309,"height":39.2,
   "mark":{"type":"line","color":"black","strokeWidth":2.8},
   "encoding":{
    "x":{"field":"t","type":"quantitative","scale":{"domain":[0,5100],"nice":false,"zero":false},"axis":null},
    "y":{"field":"i","type":"quantitative","scale":{"domain":[-24.2,15],"nice":false,"zero":false},"axis":null}}}}
 ],"spacing":50},
{"hconcat":[
 {"data":{"name":"wash"},
  "facet":{"row":{"field":"k","type":"ordinal","header":null}},
  "spacing":{"row":0},"bounds":"flush",
  "title":{"text":"Wash","orient":"bottom","anchor":"middle","dx":-5,"offset":-44,"fontSize":18,"fontWeight":"bold"},
  "spec":{"width":315,"height":37,
   "encoding":{
    "x":{"field":"t","type":"quantitative","scale":{"domain":[0,5100],"nice":false,"zero":false},"axis":null},
    "y":{"field":"i","type":"quantitative","scale":{"domain":[-35,2],"nice":false,"zero":false},"axis":null}},
   "layer":[
    {"transform":[{"filter":"!datum.sb"}],"mark":{"type":"line","color":"black","strokeWidth":2.8}},
    {"transform":[{"filter":"datum.sb==='v'"}],"mark":{"type":"rule","color":"black","strokeWidth":1.8},"encoding":{"y2":{"field":"i2"}}},
    {"transform":[{"filter":"datum.sb==='h'"}],"mark":{"type":"rule","color":"black","strokeWidth":1.8},"encoding":{"x2":{"field":"t2"}}},
    {"transform":[{"filter":"datum.sb==='a'"}],"mark":{"type":"text","align":"right","baseline":"middle","fontSize":17,"fontWeight":"bold","color":"black","font":"Liberation Sans"},"encoding":{"text":{"field":"lab"}}},
    {"transform":[{"filter":"datum.sb==='b'"}],"mark":{"type":"text","align":"center","baseline":"middle","fontSize":17,"fontWeight":"bold","color":"black","font":"Liberation Sans"},"encoding":{"text":{"field":"lab"}}}
   ]}},
 {"width":221,"height":224,
  "title":{"text":"B","anchor":"start","fontSize":20,"fontWeight":"normal","offset":5,"dx":8},
  "data":{"values":[
   {"m":"Amplitude","g":"control","v":8.56,"e":10.2},
   {"m":"Amplitude","g":"CCL2","v":7.85,"e":9.9},
   {"m":"Frequency","g":"control","v":9.04,"e":10.17},
   {"m":"Frequency","g":"CCL2","v":14.63,"e":17.54}]},
  "encoding":{
   "x":{"field":"m","type":"nominal","scale":{"paddingInner":0,"paddingOuter":0},"axis":{"title":null,"ticks":false,"tickSize":0,"labelFontSize":17,"labelPadding":7,"labelAngle":0}},
   "xOffset":{"field":"g","type":"nominal","scale":{"domain":["control","CCL2"],"paddingInner":0,"paddingOuter":0.674}}},
  "layer":[
   {"mark":{"type":"rule","color":"black","strokeWidth":2},
    "encoding":{"y":{"field":"v","type":"quantitative","scale":{"domain":[0,19],"nice":false},
      "axis":{"orient":"left","title":"mEPSC amplitude (pA)","titleFontSize":18,"labelFontSize":15,"values":[0,2.5,5,7.5,10,12.5,15,17.5],"labelExpr":"datum.value % 5 === 0 ? datum.label : ''","labelPadding":4,"titlePadding":15}},
     "y2":{"field":"e"}}},
   {"mark":{"type":"bar","stroke":"black","strokeWidth":2,"fill":"white"},
    "encoding":{"y":{"field":"v","type":"quantitative","axis":null}}},
   {"transform":[{"filter":"datum.m==='Amplitude' && datum.g==='CCL2'"}],
    "mark":{"type":"bar","stroke":"black","strokeWidth":2,"fill":{"gradient":"linear","x1":0,"y1":1,"x2":0.4294,"y2":-0.2036,"stops":[
     {"offset":0,"color":"#222"},{"offset":0.019,"color":"#222"},{"offset":0.019,"color":"#fff"},{"offset":0.0476,"color":"#fff"},
     {"offset":0.0476,"color":"#222"},{"offset":0.0667,"color":"#222"},{"offset":0.0667,"color":"#fff"},{"offset":0.0952,"color":"#fff"},
     {"offset":0.0952,"color":"#222"},{"offset":0.1143,"color":"#222"},{"offset":0.1143,"color":"#fff"},{"offset":0.1429,"color":"#fff"},
     {"offset":0.1429,"color":"#222"},{"offset":0.1619,"color":"#222"},{"offset":0.1619,"color":"#fff"},{"offset":0.1905,"color":"#fff"},
     {"offset":0.1905,"color":"#222"},{"offset":0.2095,"color":"#222"},{"offset":0.2095,"color":"#fff"},{"offset":0.2381,"color":"#fff"},
     {"offset":0.2381,"color":"#222"},{"offset":0.2571,"color":"#222"},{"offset":0.2571,"color":"#fff"},{"offset":0.2857,"color":"#fff"},
     {"offset":0.2857,"color":"#222"},{"offset":0.3048,"color":"#222"},{"offset":0.3048,"color":"#fff"},{"offset":0.3333,"color":"#fff"},
     {"offset":0.3333,"color":"#222"},{"offset":0.3524,"color":"#222"},{"offset":0.3524,"color":"#fff"},{"offset":0.381,"color":"#fff"},
     {"offset":0.381,"color":"#222"},{"offset":0.4,"color":"#222"},{"offset":0.4,"color":"#fff"},{"offset":0.4286,"color":"#fff"},
     {"offset":0.4286,"color":"#222"},{"offset":0.4476,"color":"#222"},{"offset":0.4476,"color":"#fff"},{"offset":0.4762,"color":"#fff"},
     {"offset":0.4762,"color":"#222"},{"offset":0.4952,"color":"#222"},{"offset":0.4952,"color":"#fff"},{"offset":0.5238,"color":"#fff"},
     {"offset":0.5238,"color":"#222"},{"offset":0.5429,"color":"#222"},{"offset":0.5429,"color":"#fff"},{"offset":0.5714,"color":"#fff"},
     {"offset":0.5714,"color":"#222"},{"offset":0.5905,"color":"#222"},{"offset":0.5905,"color":"#fff"},{"offset":0.619,"color":"#fff"},
     {"offset":0.619,"color":"#222"},{"offset":0.6381,"color":"#222"},{"offset":0.6381,"color":"#fff"},{"offset":0.6667,"color":"#fff"},
     {"offset":0.6667,"color":"#222"},{"offset":0.6857,"color":"#222"},{"offset":0.6857,"color":"#fff"},{"offset":0.7143,"color":"#fff"},
     {"offset":0.7143,"color":"#222"},{"offset":0.7333,"color":"#222"},{"offset":0.7333,"color":"#fff"},{"offset":0.7619,"color":"#fff"},
     {"offset":0.7619,"color":"#222"},{"offset":0.781,"color":"#222"},{"offset":0.781,"color":"#fff"},{"offset":0.8095,"color":"#fff"},
     {"offset":0.8095,"color":"#222"},{"offset":0.8286,"color":"#222"},{"offset":0.8286,"color":"#fff"},{"offset":0.8571,"color":"#fff"},
     {"offset":0.8571,"color":"#222"},{"offset":0.8762,"color":"#222"},{"offset":0.8762,"color":"#fff"},{"offset":0.9048,"color":"#fff"},
     {"offset":0.9048,"color":"#222"},{"offset":0.9238,"color":"#222"},{"offset":0.9238,"color":"#fff"},{"offset":0.9524,"color":"#fff"},
     {"offset":0.9524,"color":"#222"},{"offset":0.9714,"color":"#222"},{"offset":0.9714,"color":"#fff"},{"offset":1,"color":"#fff"}]}},
    "encoding":{"y":{"field":"v","type":"quantitative","axis":null}}},
   {"transform":[{"filter":"datum.m==='Frequency' && datum.g==='CCL2'"}],
    "mark":{"type":"bar","stroke":"black","strokeWidth":2,"fill":{"gradient":"linear","x1":0,"y1":1,"x2":0.2199,"y2":-0.1492,"stops":[
     {"offset":0,"color":"#222"},{"offset":0.0118,"color":"#222"},{"offset":0.0118,"color":"#fff"},{"offset":0.0294,"color":"#fff"},
     {"offset":0.0294,"color":"#222"},{"offset":0.0412,"color":"#222"},{"offset":0.0412,"color":"#fff"},{"offset":0.0588,"color":"#fff"},
     {"offset":0.0588,"color":"#222"},{"offset":0.0706,"color":"#222"},{"offset":0.0706,"color":"#fff"},{"offset":0.0882,"color":"#fff"},
     {"offset":0.0882,"color":"#222"},{"offset":0.1,"color":"#222"},{"offset":0.1,"color":"#fff"},{"offset":0.1176,"color":"#fff"},
     {"offset":0.1176,"color":"#222"},{"offset":0.1294,"color":"#222"},{"offset":0.1294,"color":"#fff"},{"offset":0.1471,"color":"#fff"},
     {"offset":0.1471,"color":"#222"},{"offset":0.1588,"color":"#222"},{"offset":0.1588,"color":"#fff"},{"offset":0.1765,"color":"#fff"},
     {"offset":0.1765,"color":"#222"},{"offset":0.1882,"color":"#222"},{"offset":0.1882,"color":"#fff"},{"offset":0.2059,"color":"#fff"},
     {"offset":0.2059,"color":"#222"},{"offset":0.2176,"color":"#222"},{"offset":0.2176,"color":"#fff"},{"offset":0.2353,"color":"#fff"},
     {"offset":0.2353,"color":"#222"},{"offset":0.2471,"color":"#222"},{"offset":0.2471,"color":"#fff"},{"offset":0.2647,"color":"#fff"},
     {"offset":0.2647,"color":"#222"},{"offset":0.2765,"color":"#222"},{"offset":0.2765,"color":"#fff"},{"offset":0.2941,"color":"#fff"},
     {"offset":0.2941,"color":"#222"},{"offset":0.3059,"color":"#222"},{"offset":0.3059,"color":"#fff"},{"offset":0.3235,"color":"#fff"},
     {"offset":0.3235,"color":"#222"},{"offset":0.3353,"color":"#222"},{"offset":0.3353,"color":"#fff"},{"offset":0.3529,"color":"#fff"},
     {"offset":0.3529,"color":"#222"},{"offset":0.3647,"color":"#222"},{"offset":0.3647,"color":"#fff"},{"offset":0.3824,"color":"#fff"},
     {"offset":0.3824,"color":"#222"},{"offset":0.3941,"color":"#222"},{"offset":0.3941,"color":"#fff"},{"offset":0.4118,"color":"#fff"},
     {"offset":0.4118,"color":"#222"},{"offset":0.4235,"color":"#222"},{"offset":0.4235,"color":"#fff"},{"offset":0.4412,"color":"#fff"},
     {"offset":0.4412,"color":"#222"},{"offset":0.4529,"color":"#222"},{"offset":0.4529,"color":"#fff"},{"offset":0.4706,"color":"#fff"},
     {"offset":0.4706,"color":"#222"},{"offset":0.4824,"color":"#222"},{"offset":0.4824,"color":"#fff"},{"offset":0.5,"color":"#fff"},
     {"offset":0.5,"color":"#222"},{"offset":0.5118,"color":"#222"},{"offset":0.5118,"color":"#fff"},{"offset":0.5294,"color":"#fff"},
     {"offset":0.5294,"color":"#222"},{"offset":0.5412,"color":"#222"},{"offset":0.5412,"color":"#fff"},{"offset":0.5588,"color":"#fff"},
     {"offset":0.5588,"color":"#222"},{"offset":0.5706,"color":"#222"},{"offset":0.5706,"color":"#fff"},{"offset":0.5882,"color":"#fff"},
     {"offset":0.5882,"color":"#222"},{"offset":0.6,"color":"#222"},{"offset":0.6,"color":"#fff"},{"offset":0.6176,"color":"#fff"},
     {"offset":0.6176,"color":"#222"},{"offset":0.6294,"color":"#222"},{"offset":0.6294,"color":"#fff"},{"offset":0.6471,"color":"#fff"},
     {"offset":0.6471,"color":"#222"},{"offset":0.6588,"color":"#222"},{"offset":0.6588,"color":"#fff"},{"offset":0.6765,"color":"#fff"},
     {"offset":0.6765,"color":"#222"},{"offset":0.6882,"color":"#222"},{"offset":0.6882,"color":"#fff"},{"offset":0.7059,"color":"#fff"},
     {"offset":0.7059,"color":"#222"},{"offset":0.7176,"color":"#222"},{"offset":0.7176,"color":"#fff"},{"offset":0.7353,"color":"#fff"},
     {"offset":0.7353,"color":"#222"},{"offset":0.7471,"color":"#222"},{"offset":0.7471,"color":"#fff"},{"offset":0.7647,"color":"#fff"},
     {"offset":0.7647,"color":"#222"},{"offset":0.7765,"color":"#222"},{"offset":0.7765,"color":"#fff"},{"offset":0.7941,"color":"#fff"},
     {"offset":0.7941,"color":"#222"},{"offset":0.8059,"color":"#222"},{"offset":0.8059,"color":"#fff"},{"offset":0.8235,"color":"#fff"},
     {"offset":0.8235,"color":"#222"},{"offset":0.8353,"color":"#222"},{"offset":0.8353,"color":"#fff"},{"offset":0.8529,"color":"#fff"},
     {"offset":0.8529,"color":"#222"},{"offset":0.8647,"color":"#222"},{"offset":0.8647,"color":"#fff"},{"offset":0.8824,"color":"#fff"},
     {"offset":0.8824,"color":"#222"},{"offset":0.8941,"color":"#222"},{"offset":0.8941,"color":"#fff"},{"offset":0.9118,"color":"#fff"},
     {"offset":0.9118,"color":"#222"},{"offset":0.9235,"color":"#222"},{"offset":0.9235,"color":"#fff"},{"offset":0.9412,"color":"#fff"},
     {"offset":0.9412,"color":"#222"},{"offset":0.9529,"color":"#222"},{"offset":0.9529,"color":"#fff"},{"offset":0.9706,"color":"#fff"},
     {"offset":0.9706,"color":"#222"},{"offset":0.9824,"color":"#222"},{"offset":0.9824,"color":"#fff"},{"offset":1,"color":"#fff"}]}},
    "encoding":{"y":{"field":"v","type":"quantitative","axis":null}}},
   {"mark":{"type":"tick","color":"black","size":14,"thickness":2},
    "encoding":{"y":{"field":"e","type":"quantitative",
      "axis":{"orient":"right","title":"mEPSC frequency (per 30s)","titleFontSize":18,"titleAngle":270,"labelFontSize":15,"values":[0,2.5,5,7.5,10,12.5,15,17.5],"labelExpr":"datum.value % 5 === 0 ? datum.label : ''","labelPadding":3,"titlePadding":18}}}},
   {"transform":[{"filter":"datum.m==='Frequency' && datum.g==='CCL2'"}],
    "mark":{"type":"text","text":"*","fontSize":22,"fontWeight":"bold","baseline":"alphabetic","dy":1,"color":"black","font":"Liberation Sans"},
    "encoding":{"y":{"field":"e","type":"quantitative","axis":null}}},
   {"mark":{"type":"point","opacity":0},
    "encoding":{"y":{"field":"v","type":"quantitative","axis":null},
     "shape":{"field":"g","type":"nominal","scale":{"domain":["control","CCL2"],"range":["M-1.4,-0.5H1.4V0.5H-1.4Z","M-1.4,-0.5H1.4V0.5H-1.4ZM-1.4,0.3L-1.2,0.5M-1.4,-0.1L-0.8,0.5M-1.4,-0.5L-0.4,0.5M-1,-0.5L0,0.5M-0.6,-0.5L0.4,0.5M-0.2,-0.5L0.8,0.5M0.2,-0.5L1.2,0.5M0.6,-0.5L1.4,0.3M1,-0.5L1.4,-0.1"]},
      "legend":{"title":null,"orient":"none","legendX":19,"legendY":10,"symbolSize":319,"symbolFillColor":"white","symbolStrokeColor":"black","symbolStrokeWidth":1.4,"symbolOpacity":1,"labelFontSize":16,"labelOffset":7.5,"rowPadding":3}}}}
  ],
  "resolve":{"axis":{"y":"independent"}}}
 ],"spacing":54,"resolve":{"scale":{"shape":"independent","fill":"independent"},"legend":{"shape":"independent","fill":"independent"}}},
{"hconcat":[
 {"width":4,"height":1,"data":{"values":[]},"mark":"point"},
 {"hconcat":[
 {"width":215,"height":233,
  "title":{"text":"C","anchor":"start","fontSize":21,"fontWeight":"normal","offset":22,"dx":-17},
  "data":{"name":"cc"},
  "encoding":{
   "x":{"field":"x","type":"quantitative","scale":{"domain":[0,4500],"nice":false,"zero":false},
     "axis":{"title":"inter-event interval  (ms)","titleFontSize":19,"labelFontSize":18,"format":"d","values":[0,750,1500,2250,3000,3750,4500],"labelExpr":"datum.value % 1500 === 0 ? datum.label : ''","titlePadding":8}},
   "y":{"field":"p","type":"quantitative","scale":{"domain":[0,1.131],"nice":false},
     "axis":{"title":"Cumulative probability (100%)","titleFontSize":19.5,"labelFontSize":18,"values":[0,0.25,0.5,0.75,1],"labelExpr":"datum.value === 0 ? '0.0' : datum.value === 0.5 ? '0.5' : datum.value === 1 ? '1.0' : ''","titlePadding":14,"titleY":145}}},
  "layer":[
   {"transform":[{"filter":"datum.s==='Control'"}],"mark":{"type":"line","color":"#555","strokeWidth":0.8}},
   {"transform":[{"filter":"datum.s==='Control'"}],"mark":{"type":"point","shape":"square","size":50,"filled":true,"fill":"white","stroke":"#8c8c8c","strokeWidth":1.2,"opacity":1}},
   {"transform":[{"filter":"datum.s==='CCL2'"}],"mark":{"type":"line","color":"black","strokeWidth":1.5}},
   {"transform":[{"filter":"datum.s==='CCL2'"}],"mark":{"type":"point","shape":"circle","size":26,"filled":true,"color":"black","opacity":1}},
   {"mark":{"type":"point","filled":true,"opacity":0},
    "encoding":{
     "shape":{"field":"s","type":"nominal","scale":{"domain":["Control","CCL2"],"range":["M-2.9,0H-1M1,0H2.9M-1,-1H1V1H-1Z","M-2.9,0H-1M1,0H2.9M-1,0A1,1 0 1,1 1,0A1,1 0 1,1 -1,0Z"]},
       "legend":{"title":null,"orient":"none","legendX":102.6,"legendY":122.5,"symbolSize":135,"symbolFillColor":"white","symbolStrokeColor":"#333","symbolStrokeWidth":1.2,"symbolOpacity":1,"labelFontSize":17,"labelOffset":21.6,"rowPadding":8}},
     "fill":{"field":"s","type":"nominal","scale":{"domain":["Control","CCL2"],"range":["white","black"]},
       "legend":{"title":null,"orient":"none","legendX":102.6,"legendY":122.5,"symbolSize":135,"symbolFillColor":"white","symbolStrokeColor":"#333","symbolStrokeWidth":1.2,"symbolOpacity":1,"labelFontSize":17,"labelOffset":21.6,"rowPadding":8}}}}
  ]},
 {"width":219,"height":232,
  "title":{"text":"D","anchor":"start","fontSize":20,"fontWeight":"normal","offset":22,"dx":-37},
  "data":{"name":"dd"},
  "encoding":{
   "x":{"field":"x","type":"quantitative","scale":{"domain":[0,55.8],"nice":false,"zero":false},
     "axis":{"title":"mEPSC amplitude (pA)","titleFontSize":19,"labelFontSize":18,"values":[0,10,20,30,40,50],"labelExpr":"datum.value % 20 === 0 ? datum.label : ''","titlePadding":8}},
   "y":{"field":"p","type":"quantitative","scale":{"domain":[0,1.1],"nice":false},
     "axis":{"title":"Cumulative probability (100%)","titleFontSize":18,"labelFontSize":18,"values":[0,0.25,0.5,0.75,1],"labelExpr":"datum.value === 0 ? '0.0' : datum.value === 0.5 ? '0.5' : datum.value === 1 ? '1.0' : ''","titlePadding":11,"titleY":147}}},
  "layer":[
   {"transform":[{"filter":"datum.s==='Control'"}],"mark":{"type":"line","color":"#555","strokeWidth":0.8}},
   {"transform":[{"filter":"datum.s==='Control'"}],"mark":{"type":"point","shape":"square","size":55,"filled":true,"fill":"white","stroke":"#8c8c8c","strokeWidth":1.2,"opacity":1}},
   {"transform":[{"filter":"datum.s==='CCL2'"}],"mark":{"type":"line","color":"black","strokeWidth":1.5}},
   {"transform":[{"filter":"datum.s==='CCL2'"}],"mark":{"type":"point","shape":"circle","size":26,"filled":true,"color":"black","opacity":1}},
   {"mark":{"type":"point","filled":true,"opacity":0},
    "encoding":{
     "shape":{"field":"s","type":"nominal","scale":{"domain":["Control","CCL2"],"range":["M-3.3,0H-1M1,0H3.3M-1,-1H1V1H-1Z","M-3.3,0H-1.2M1.2,0H3.3M-1.2,0A1.2,1.2 0 1,1 1.2,0A1.2,1.2 0 1,1 -1.2,0Z"]},
       "legend":{"title":null,"orient":"none","legendX":117.4,"legendY":101.5,"symbolSize":64,"symbolFillColor":"white","symbolStrokeColor":"#333","symbolStrokeWidth":1.2,"symbolOpacity":1,"labelFontSize":17,"labelOffset":12.4,"rowPadding":0}},
     "fill":{"field":"s","type":"nominal","scale":{"domain":["Control","CCL2"],"range":["white","black"]},
       "legend":{"title":null,"orient":"none","legendX":117.4,"legendY":101.5,"symbolSize":64,"symbolFillColor":"white","symbolStrokeColor":"#333","symbolStrokeWidth":1.2,"symbolOpacity":1,"labelFontSize":17,"labelOffset":12.4,"rowPadding":0}}}}
  ]}
 ],"spacing":39,"resolve":{"scale":{"shape":"independent","fill":"independent"},"legend":{"shape":"independent","fill":"independent"}}}
 ],"spacing":0,"align":"none","resolve":{"scale":{"shape":"independent","fill":"independent"},"legend":{"shape":"independent","fill":"independent"}}}
]
}
